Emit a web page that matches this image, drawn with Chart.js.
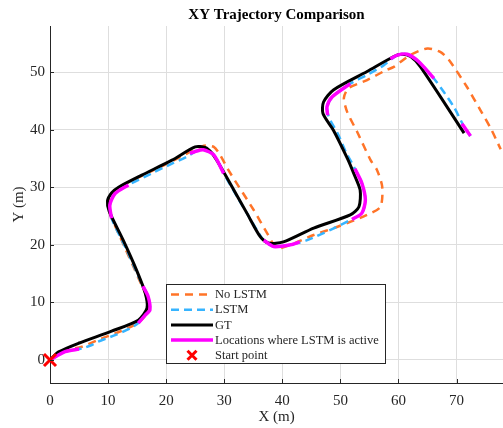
<!DOCTYPE html>
<html>
<head>
<meta charset="utf-8">
<script src="https://cdn.jsdelivr.net/npm/chart.js@4.4.1/dist/chart.umd.min.js"></script>
<style>
  html, body { margin: 0; padding: 0; background: #fff; }
  #wrap { width: 503px; height: 428px; }
</style>
</head>
<body>
<div id="wrap"><canvas id="c" width="503" height="428"></canvas></div>
<script>
// Values (metres).
const xTicks = [0, 10, 20, 30, 40, 50, 60, 70];
const yTicks = [0, 10, 20, 30, 40, 50];

const noLstmX = [0, 2.6, 5.5, 8.3, 11.2, 13.8, 15.4, 16.7, 16.6, 15.2, 12.9, 10.4, 10.0, 10.6, 13.0, 17.3, 21.0, 24.5, 26.5, 28.2, 29.3, 30.7, 35.1, 37.4, 39.1, 41.4, 45.4, 49.4, 54.6, 56.9, 57.2, 56.3, 55.2, 52.9, 51.2, 50.6, 51.4, 54.6, 57.8, 59.2, 62.1, 65.0, 67.2, 68.7, 71.8, 74.1, 75.9, 77.6];
const noLstmY = [0, 1.6, 2.3, 3.5, 4.6, 5.7, 6.6, 8.3, 11.0, 14.3, 19.5, 25.2, 27.3, 29.0, 30.6, 32.7, 34.5, 36.3, 37.2, 37.0, 35.6, 33.0, 26.0, 22.0, 19.4, 20.0, 21.7, 23.1, 25.2, 26.6, 30.1, 33.0, 34.7, 39.6, 43.0, 45.5, 47.2, 48.6, 50.3, 50.9, 53.0, 54.1, 53.5, 52.1, 47.4, 43.4, 40.2, 36.6];

const lstmX = [0, 2.6, 5.5, 7.2, 8.3, 11.2, 13.8, 15.2, 16.4, 17.2, 16.9, 15.5, 13.2, 10.6, 10.3, 11.2, 13.5, 17.5, 21.0, 23.6, 25.0, 26.4, 28.2, 29.9, 32.2, 35.6, 36.8, 38.5, 41.4, 44.3, 48.3, 51.7, 53.7, 54.3, 53.7, 52.3, 51.0, 49.6, 48.0, 47.7, 48.6, 51.7, 54.6, 57.5, 59.8, 61.5, 63.5, 66.1, 69.5, 71.3, 72.4];
const lstmY = [0, 1.45, 2.0, 2.6, 3.2, 4.3, 5.5, 6.4, 7.8, 8.7, 11.0, 13.9, 19.1, 24.6, 26.9, 28.9, 30.4, 32.4, 34.1, 35.3, 36.2, 36.5, 35.6, 32.4, 28.4, 22.6, 20.8, 19.7, 20.0, 20.8, 22.6, 24.3, 25.5, 27.8, 30.7, 33.6, 36.0, 39.2, 42.2, 44.0, 45.7, 48.0, 49.5, 51.2, 52.95, 53.1, 51.8, 48.9, 44.0, 40.5, 38.9];

const gtX = [0, 1.5, 4.9, 10.6, 15.2, 16.7, 16.4, 14.9, 12.6, 10.2, 9.9, 10.6, 11.8, 15.8, 21.0, 25.0, 26.7, 27.9, 29.0, 31.0, 33.9, 36.2, 37.6, 40.2, 45.4, 51.7, 53.2, 53.4, 52.3, 51.2, 48.8, 47.0, 47.1, 48.8, 54.6, 59.2, 60.6, 62.1, 63.8, 71.3];
const gtY = [0, 1.4, 2.9, 5.0, 6.9, 9.0, 11.6, 15.6, 20.8, 25.8, 27.6, 29.0, 30.0, 32.1, 34.7, 37.0, 36.9, 35.9, 34.2, 30.7, 25.5, 21.4, 20.3, 20.5, 22.9, 25.2, 26.6, 29.5, 32.4, 35.0, 39.9, 42.8, 44.8, 46.9, 50.1, 52.7, 53.1, 52.7, 50.9, 39.4];

// null separates the stretches where the LSTM is active
const activeX = [0, 2.6, 5.0, null, 15.2, 16.4, 17.2, 16.9, 16.0, null, 10.6, 10.3, 11.2, 13.5, null, 24.1, 25.0, 26.4, 28.2, 29.9, null, 36.8, 38.5, 41.4, 43.0, null, 52.0, 53.7, 54.3, 53.7, 52.5, null, 47.8, 47.7, 48.6, 51.7, null, 58.6, 59.8, 61.5, 63.5, 66.1, null, 70.9, 71.3, 72.4];
const activeY = [0, 1.45, 1.9, null, 6.4, 7.8, 8.7, 11.0, 12.8, null, 24.6, 26.9, 28.9, 30.4, null, 35.9, 36.2, 36.5, 35.6, 32.4, null, 20.8, 19.7, 20.0, 20.5, null, 24.4, 25.5, 27.8, 30.7, 33.2, null, 42.5, 44.0, 45.7, 48.0, null, 52.3, 52.95, 53.1, 51.8, 48.9, null, 41.0, 40.5, 38.9];

const startX = [0], startY = [0];

const FONT = "'Liberation Serif', 'Times New Roman', serif";
const AXIS = "#262626";

function pts(xs, ys) { return xs.map((x, i) => ({ x: x, y: ys[i] })); }

// Title, axis labels, inward ticks and the boxed legend, drawn like MATLAB does.
const decor = {
  id: "decor",
  afterDraw(chart) {
    const ctx = chart.ctx, a = chart.chartArea;
    const sx = chart.scales.x, sy = chart.scales.y;
    ctx.save();
    // inward tick marks
    ctx.strokeStyle = AXIS; ctx.lineWidth = 1;
    ctx.beginPath();
    xTicks.forEach(v => { const p = Math.round(sx.getPixelForValue(v)) + 0.5; ctx.moveTo(p, a.bottom); ctx.lineTo(p, a.bottom - 4); });
    yTicks.forEach(v => { const p = Math.round(sy.getPixelForValue(v)) + 0.5; ctx.moveTo(a.left, p); ctx.lineTo(a.left + 4, p); });
    ctx.stroke();

    ctx.fillStyle = "#000";
    ctx.textAlign = "center"; ctx.textBaseline = "middle";
    ctx.font = "bold 15px " + FONT;
    ctx.fillText("XY Trajectory Comparison", (a.left + a.right) / 2, 15);
    ctx.fillStyle = AXIS;
    ctx.font = "15px " + FONT;
    ctx.fillText("X (m)", (a.left + a.right) / 2, 417);
    ctx.translate(19, (a.top + a.bottom) / 2);
    ctx.rotate(-Math.PI / 2);
    ctx.fillText("Y (m)", 0, 0);
    ctx.restore();

    // legend box
    ctx.save();
    const bx = 166.5, by = 284.5, bw = 219, bh = 79;
    ctx.fillStyle = "#fff"; ctx.fillRect(bx, by, bw, bh);
    ctx.strokeStyle = AXIS; ctx.lineWidth = 1; ctx.strokeRect(bx, by, bw, bh);
    ctx.font = "12.5px " + FONT; ctx.textAlign = "left"; ctx.textBaseline = "middle";
    chart.data.datasets.forEach((ds, i) => {
      const y = 294.5 + i * 15.2;
      if (ds.showLine === false) {
        const c = 192, r = 4.5;
        ctx.strokeStyle = ds.borderColor; ctx.lineWidth = 3; ctx.setLineDash([]);
        ctx.beginPath(); ctx.moveTo(c - r, y - r); ctx.lineTo(c + r, y + r); ctx.moveTo(c + r, y - r); ctx.lineTo(c - r, y + r); ctx.stroke();
      } else {
        ctx.strokeStyle = ds.borderColor; ctx.lineWidth = ds.borderWidth;
        ctx.setLineDash(ds.borderDash || []);
        ctx.beginPath(); ctx.moveTo(171, y); ctx.lineTo(213, y); ctx.stroke();
      }
      ctx.setLineDash([]);
      ctx.fillStyle = AXIS;
      ctx.fillText(ds.label, 215, y + 0.5);
    });
    ctx.restore();
  }
};

const lineBase = { pointRadius: 0, fill: false, tension: 0.25, spanGaps: false, borderCapStyle: "butt", borderJoinStyle: "round", clip: false };

new Chart(document.getElementById("c").getContext("2d"), {
  type: "line",
  data: {
    datasets: [
      Object.assign({ label: "No LSTM", data: pts(noLstmX, noLstmY), borderColor: "#ff7428", borderWidth: 2.5, borderDash: [8, 6], order: 4 }, lineBase),
      Object.assign({ label: "LSTM", data: pts(lstmX, lstmY), borderColor: "#36b4ff", borderWidth: 2.5, borderDash: [8, 5], order: 3 }, lineBase),
      Object.assign({ label: "GT", data: pts(gtX, gtY), borderColor: "#000000", borderWidth: 3, order: 2 }, lineBase),
      Object.assign({ label: "Locations where LSTM is active", data: pts(activeX, activeY), borderColor: "#ff00ff", borderWidth: 3.5, order: 1 }, lineBase),
      { label: "Start point", data: pts(startX, startY), showLine: false, pointStyle: "crossRot", pointRadius: 8.5,
        borderColor: "#ff0000", backgroundColor: "#ff0000", pointBorderColor: "#ff0000", pointBorderWidth: 3,
        clip: false, order: 0 },
    ],
  },
  options: {
    animation: false, responsive: false, maintainAspectRatio: false,
    layout: { autoPadding: false, padding: { top: 26, right: 0, bottom: 0, left: 0 } },
    plugins: { legend: { display: false }, tooltip: { enabled: false }, title: { display: false } },
    scales: {
      x: {
        type: "linear", min: 0, max: 78,
        afterFit: s => { s.height = 45; },
        afterBuildTicks: s => { s.ticks = xTicks.map(v => ({ value: v })); },
        grid: { color: "#dedede", lineWidth: 1, drawTicks: false },
        border: { color: AXIS, width: 1 },
        ticks: { color: AXIS, padding: 9, font: { family: FONT, size: 15 }, maxRotation: 0 },
      },
      y: {
        type: "linear", min: -4, max: 58,
        afterFit: s => { s.width = 50; },
        afterBuildTicks: s => { s.ticks = yTicks.map(v => ({ value: v })); },
        grid: { color: "#dedede", lineWidth: 1, drawTicks: false },
        border: { color: AXIS, width: 1 },
        ticks: { color: AXIS, padding: 5, font: { family: FONT, size: 15 } },
      },
    },
  },
  plugins: [decor],
});
</script>
</body>
</html>
